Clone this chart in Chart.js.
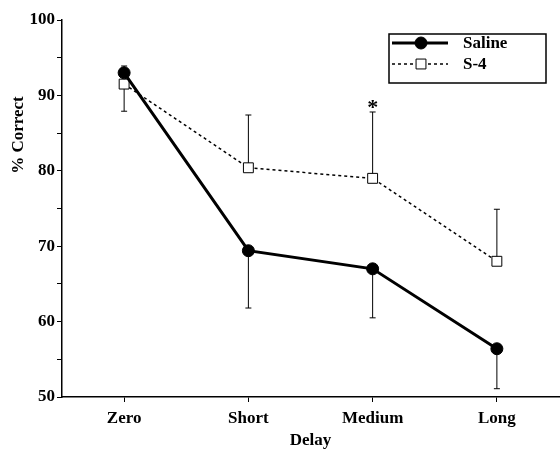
<!DOCTYPE html>
<html>
<head>
<meta charset="utf-8">
<script src="https://cdn.jsdelivr.net/npm/chart.js@4"></script>
<style>
  html, body { margin: 0; padding: 0; background: #fff; overflow: hidden; }
  #wrap { width: 560px; height: 453px; }
</style>
</head>
<body>
<div id="wrap"><canvas id="delayChart"></canvas></div>
<script>
// data
const delays = ["Zero", "Short", "Medium", "Long"];
const saline = [93.0, 69.4, 67.0, 56.4];
const salineErr = [0.9, -7.6, -6.5, -5.3];   // one-sided bars (sign = direction)
const s4 = [91.5, 80.4, 79.0, 68.0];
const s4Err = [-3.6, 7.0, 8.8, 6.9];
const starAt = { index: 2, value: 89.0 };   // significance marker

const FONT = "'Liberation Serif', 'Times New Roman', serif";

// error bars, drawn under the lines
const errorBars = {
  id: "errorBars",
  beforeDatasetsDraw(chart) {
    const ctx = chart.ctx;
    const x = chart.scales.x, y = chart.scales.y;
    const sets = [[saline, salineErr], [s4, s4Err]];
    ctx.save();
    ctx.strokeStyle = "#000";
    ctx.lineWidth = 1;
    sets.forEach(([vals, errs]) => {
      vals.forEach((v, i) => {
        const px = x.getPixelForValue(i);
        const y0 = y.getPixelForValue(v);
        const y1 = y.getPixelForValue(v + errs[i]);
        ctx.beginPath();
        ctx.moveTo(px, y0); ctx.lineTo(px, y1);
        ctx.moveTo(px - 3, y1); ctx.lineTo(px + 3, y1);
        ctx.stroke();
      });
    });
    ctx.restore();
  }
};

// y title, asterisk and boxed legend
const extras = {
  id: "extras",
  afterDraw(chart) {
    const ctx = chart.ctx;
    const x = chart.scales.x, y = chart.scales.y;
    ctx.save();
    ctx.fillStyle = "#000";
    ctx.font = "bold 17px " + FONT;
    ctx.textAlign = "center";
    ctx.textBaseline = "middle";

    ctx.save();
    ctx.translate(19, 135);
    ctx.rotate(-Math.PI / 2);
    ctx.fillText("% Correct", 0, 0);
    ctx.restore();

    ctx.font = "bold 22px " + FONT;
    ctx.fillText("*", x.getPixelForValue(starAt.index), y.getPixelForValue(starAt.value) + 5);

    // legend
    const lx = 389, ly = 34, lw = 157, lh = 49;
    ctx.lineWidth = 1.5;
    ctx.strokeStyle = "#000";
    ctx.strokeRect(lx, ly, lw, lh);
    chart.data.datasets.forEach((ds, k) => {
      const cy = ly + 9 + k * 21;
      ctx.save();
      ctx.lineWidth = ds.borderWidth;
      ctx.setLineDash(ds.borderDash || []);
      ctx.beginPath();
      ctx.moveTo(lx + 3, cy); ctx.lineTo(lx + 59, cy);
      ctx.stroke();
      ctx.restore();
      ctx.save();
      ctx.fillStyle = ds.pointBackgroundColor;
      ctx.strokeStyle = ds.pointBorderColor;
      ctx.lineWidth = ds.pointBorderWidth;
      ctx.beginPath();
      if (ds.pointStyle === "circle") {
        ctx.arc(lx + 32, cy, ds.pointRadius, 0, Math.PI * 2);
      } else {
        const s = ds.pointRadius * Math.SQRT1_2;
        ctx.rect(lx + 32 - s, cy - s, 2 * s, 2 * s);
      }
      ctx.fill(); ctx.stroke();
      ctx.restore();
      ctx.font = "bold 17px " + FONT;
      ctx.textAlign = "left";
      ctx.fillText(ds.label, lx + 74, cy + 1);
    });
    ctx.restore();
  }
};

new Chart(document.getElementById("delayChart"), {
  type: "line",
  data: {
    labels: delays,
    datasets: [
      {
        label: "Saline",
        data: saline,
        borderColor: "#000",
        borderWidth: 3,
        pointStyle: "circle",
        pointRadius: 6,
        pointBackgroundColor: "#000",
        pointBorderColor: "#000",
        pointBorderWidth: 1,
        tension: 0
      },
      {
        label: "S-4",
        data: s4,
        borderColor: "#000",
        borderWidth: 1.5,
        borderDash: [3, 3],
        pointStyle: "rect",
        pointRadius: 7,
        pointBackgroundColor: "#fff",
        pointBorderColor: "#000",
        pointBorderWidth: 1,
        tension: 0
      }
    ]
  },
  options: {
    responsive: true,
    maintainAspectRatio: false,
    animation: false,
    layout: { autoPadding: false, padding: { top: 20, right: 1, bottom: 0, left: 0 } },
    plugins: { legend: { display: false }, tooltip: { enabled: false } },
    scales: {
      x: {
        offset: true,
        border: { color: "#000", width: 1.5 },
        grid: { drawOnChartArea: false, tickLength: 5, color: "#000" },
        ticks: { color: "#000", font: { family: FONT, size: 17, weight: "bold" }, padding: 6 },
        title: {
          display: true, text: "Delay", color: "#000",
          font: { family: FONT, size: 17, weight: "bold" }, padding: { top: 0, bottom: 2 }
        },
        afterFit(s) { s.height = 56; }
      },
      y: {
        min: 50,
        max: 100,
        border: { color: "#000", width: 1.5 },
        grid: { drawOnChartArea: false, tickLength: 5, color: "#000" },
        ticks: {
          stepSize: 5,
          color: "#000",
          padding: 2,
          font: { family: FONT, size: 17, weight: "bold" },
          callback: v => (v % 10 === 0 ? v : "")
        },
        afterFit(s) { s.width = 62; }
      }
    }
  },
  plugins: [errorBars, extras]
});
</script>
</body>
</html>
